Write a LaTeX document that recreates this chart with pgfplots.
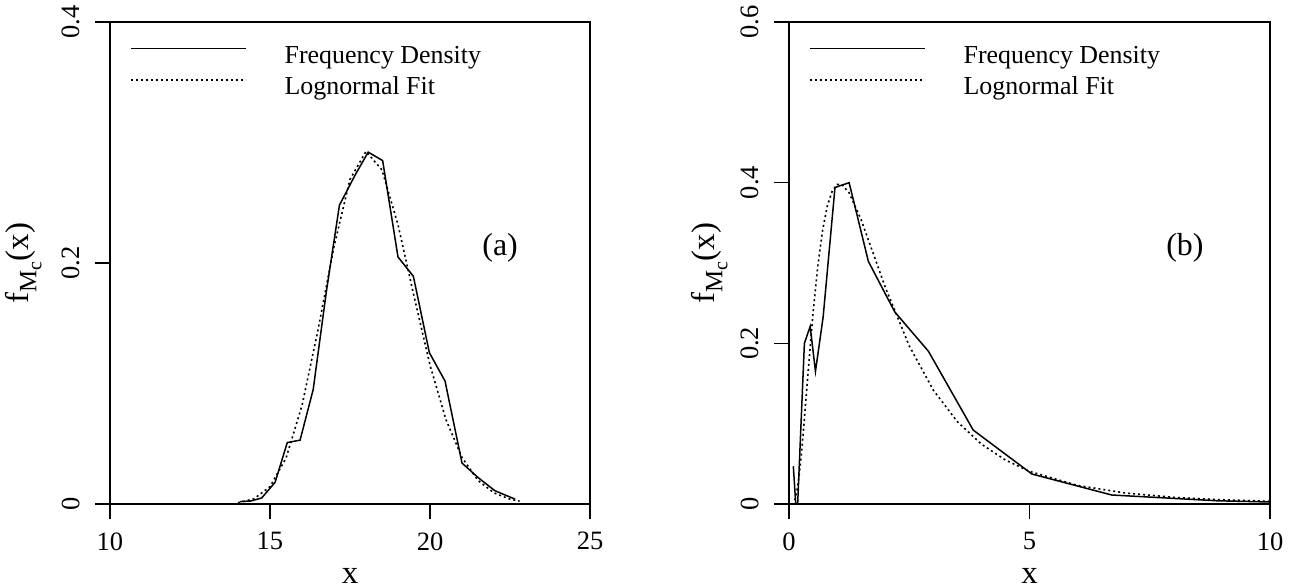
\documentclass[border=0pt]{standalone}
\usepackage{fontspec}
\setmainfont{Liberation Serif}
\usepackage{pgfplots}
\pgfplotsset{compat=1.18}

\newcommand{\fM}{f\raisebox{-0.5ex}{\fontsize{12.5}{13}\selectfont M\raisebox{-0.45ex}{\fontsize{10}{11}\selectfont c}}(x)}

\pgfplotsset{
  myaxis/.style={
    scale only axis, width=240bp, height=241bp,
    axis line style={line width=0.75bp},
    every tick/.style={line width=0.75bp, black},
    tick align=outside, major tick length=7.5bp,
    xtick pos=bottom, ytick pos=left,
    tick label style={font=\fontsize{13.3}{15}\selectfont},
    /pgf/number format/assume math mode=true,
    xticklabel style={anchor=north, inner sep=0pt},
    xticklabel shift=6.5bp,
    yticklabel style={rotate=90, anchor=south, inner sep=0pt},
    yticklabel shift=7.5bp,
    xlabel={x},
    ylabel={\fM},
    label style={font=\fontsize{16.5}{18}\selectfont},
    xlabel style={at={(axis description cs:0.5,-0.164)}, anchor=base},
    legend cell align=left,
    legend style={draw=none, fill=none, at={(axis description cs:0.0417,0.952)},
      anchor=north west, inner sep=0pt, outer sep=0pt, row sep=6.5bp,
      font=\fontsize{13}{15}\selectfont,
      nodes={inner sep=0pt, text height=9bp, text depth=0pt},
      /tikz/every odd column/.append style={column sep=19bp}},
    legend image code/.code={\draw[#1] (0bp,2.7bp) -- (57.5bp,2.7bp);},
    solid line/.style={black, line width=0.75bp, solid},
    dot line/.style={black, line width=0.8bp, dash pattern=on 1bp off 1.5bp},
  }
}

\begin{document}
\begin{tikzpicture}
\path[use as bounding box] (0bp,0bp) rectangle (648bp,294bp);

\begin{axis}[myaxis, at={(55bp,42bp)}, anchor=south west,
  ylabel style={at={(axis description cs:-0.18,0.5)}, anchor=center},
  xmin=10, xmax=25, ymin=0, ymax=0.4,
  xtick={10,15,20,25}, ytick={0,0.2,0.4},
  yticklabels={0,0.2,0.4}]
\addplot[solid line] coordinates {
(14.06,0.002) (14.4,0.0025) (14.74,0.005) (15.16,0.018) (15.54,0.051)
(15.94,0.053) (16.35,0.095) (16.76,0.176) (17.17,0.248) (17.66,0.273)
(18.07,0.292) (18.52,0.285) (19.0,0.205) (19.48,0.189) (19.98,0.1256)
(20.47,0.102) (21.0,0.034) (21.5,0.022) (22.03,0.011) (22.66,0.004)
};
\addlegendentry{Frequency Density}
\addplot[dot line] coordinates {
(14.0,0.0010) (14.5,0.0043) (15.0,0.0144) (15.5,0.0380) (16.0,0.0817)
(16.5,0.1444) (17.0,0.2137) (17.5,0.2694) (18.0,0.2926) (18.5,0.2772)
(19.0,0.2318) (19.5,0.1725) (20.0,0.1153) (20.5,0.0699) (21.0,0.0386)
(21.5,0.0196) (22.0,0.0092) (22.5,0.0040) (22.8,0.0024)
};
\addlegendentry{Lognormal Fit}
\node[font=\fontsize{16}{18}\selectfont] at (axis cs:22.19,0.213) {(a)};
\end{axis}

\begin{axis}[myaxis, at={(394.5bp,42bp)}, anchor=south west, width=240.5bp,
  ylabel style={at={(axis description cs:-0.165,0.5)}, anchor=center},
  xmin=0, xmax=10, ymin=0, ymax=0.6,
  xtick={0,5,10}, ytick={0,0.2,0.4,0.6},
  yticklabels={0,0.2,0.4,0.6}]
\addplot[solid line] coordinates {
(0.09,0.047) (0.14,0) (0.18,0) (0.32,0.200) (0.44,0.221) (0.55,0.165)
(0.71,0.233) (0.956,0.394) (1.25,0.400) (1.65,0.302) (2.20,0.239)
(2.90,0.190) (3.83,0.092) (5.05,0.0373) (6.71,0.0112) (8.9,0.004) (10.0,0.0025)
};
\addlegendentry{Frequency Density}
\addplot[dot line] coordinates {
(0.12,0.0048) (0.15,0.0114) (0.2,0.0302) (0.25,0.0577) (0.3,0.0913)
(0.4,0.1663) (0.5,0.2377) (0.6,0.2970) (0.7,0.3415) (0.8,0.3718)
(0.9,0.3898) (1.0,0.3977) (1.1,0.3978) (1.25,0.3874) (1.5,0.3538)
(1.75,0.3121) (2.0,0.2701) (2.5,0.1968) (3.0,0.1418) (3.5,0.1024)
(4.0,0.0745) (4.5,0.0547) (5.0,0.0406) (6.0,0.0231) (7.0,0.0136)
(8.0,0.0083) (9.0,0.0053) (10.0,0.0034)
};
\addlegendentry{Lognormal Fit}
\node[font=\fontsize{16}{18}\selectfont] at (axis cs:8.23,0.319) {(b)};
\end{axis}
\end{tikzpicture}
\end{document}
